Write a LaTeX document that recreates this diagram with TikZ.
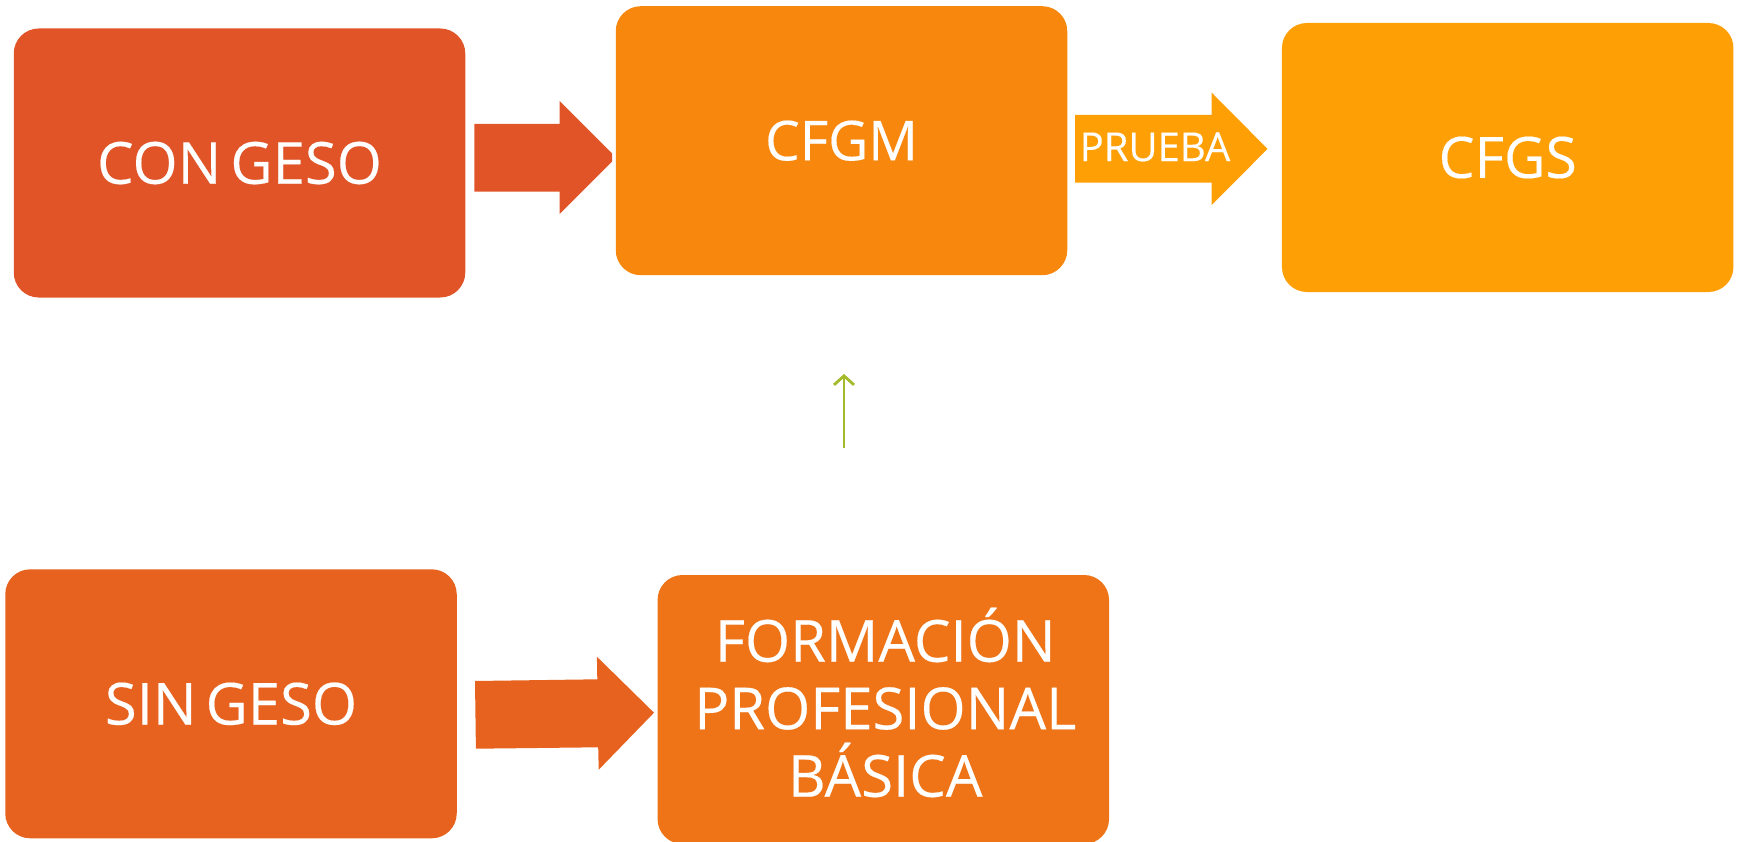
\documentclass[tikz,border=0pt]{standalone}
\usepackage{fontspec}
\setmainfont{Open Sans}[WordSpace=0.6,FakeBold=0.3]
\usepackage{tikz}
\usetikzlibrary{arrows,arrows.meta,positioning,calc}

\definecolor{rojo}{HTML}{E05427}
\definecolor{naranja}{HTML}{F8870D}
\definecolor{ambar}{HTML}{FEA005}
\definecolor{teja}{HTML}{E7621F}
\definecolor{mandarina}{HTML}{EE7417}
\definecolor{oliva}{HTML}{A5BA2A}

\tikzset{
  caja/.style={rounded corners=25pt, minimum width=451.5pt, minimum height=269pt, inner sep=0pt, text=white, align=center},
  letra/.style={font=\fontsize{#1}{67.5}\selectfont},
}

\begin{document}
\begin{tikzpicture}[x=1pt,y=-1pt]

\useasboundingbox (0,0) rectangle (1742,842);

% cajas de arriba
\node[caja, fill=rojo, letra=58] (con) at (239.5,163) {CON GESO};
\node[caja, fill=naranja, letra=55] (cfgm) at (841.5,140.7) {CFGM};
\node[caja, fill=ambar, letra=57] (cfgs) at (1507.7,157.5) {CFGS};

% cajas de abajo
\node[caja, fill=teja, letra=58] (sin) at (231,703.8) {SIN GESO};
\node[caja, fill=mandarina] (fpb) at (883.3,709.5) {};
\node[text=white, letra=58, align=center, inner sep=0pt] (fpbtexto) at ($(fpb.center)+(2,-7)$) {FORMACIÓN\\PROFESIONAL\\BÁSICA};

% flecha CON GESO -> CFGM
\fill[rojo] (474.3,124) -- (559.7,124) -- (559.7,101) -- (612,153.5) -- (612,161.5)
  -- (559.7,214) -- (559.7,191.7) -- (474.3,191.7) -- cycle;

% flecha PRUEBA
\fill[ambar] (1075,115) -- (1211.7,115) -- (1211.7,92.7) -- (1267.5,148.9)
  -- (1211.7,205) -- (1211.7,182.7) -- (1075,182.7) -- cycle;
\node[text=white, letra=40, inner sep=0pt] (prueba) at (1155,147) {PRUEBA};

% flecha SIN GESO -> FPB
\fill[teja] (475,681) -- (597.3,679.3) -- (596.9,656.7) -- (654,712.7)
  -- (598.7,769.7) -- (598.2,747.3) -- (475.9,748.7) -- cycle;

% flecha verde
\coordinate (pie) at (844,448);
\coordinate (punta) at (844,374);
\draw[oliva, line width=2.8pt, -{Straight Barb[length=9pt,width=20pt]}] (pie) -- (punta);

\end{tikzpicture}
\end{document}
